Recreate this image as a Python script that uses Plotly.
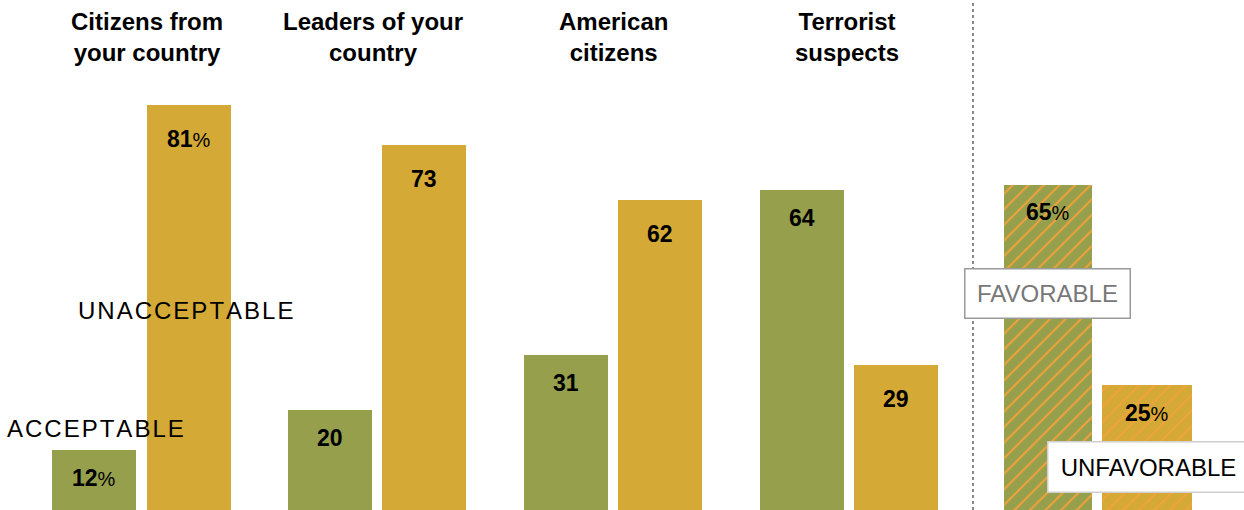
import plotly.graph_objects as go

# ---- data ----
groups = ["Citizens from<br>your country", "Leaders of your<br>country", "American<br>citizens", "Terrorist<br>suspects"]
acceptable = [12, 20, 31, 64]
unacceptable = [81, 73, 62, 29]
favorable = [65]
unfavorable = [25]

# ---- layout constants (pixel-like x positions on a linear axis) ----
acc_x = [94, 330, 566, 802]
unacc_x = [189, 424, 660, 896]
fav_x = [1048]
unfav_x = [1147]
header_x = [147, 373, 613, 847]

GREEN = "#959f4c"
GOLD = "#d4a935"
NUM_FONT = dict(family="Liberation Sans, Arial, sans-serif", size=23, color="black")

def lab(v, pct):
    return f"<b>{v}</b><span style='font-size:20px'>%</span>" if pct else f"<b>{v}</b>"

fig = go.Figure()
fig.add_trace(go.Bar(x=acc_x, y=acceptable, width=84, marker=dict(color=GREEN, line=dict(width=0)), showlegend=False, hoverinfo="skip"))
fig.add_trace(go.Bar(x=unacc_x, y=unacceptable, width=84, marker=dict(color=GOLD, line=dict(width=0)), showlegend=False, hoverinfo="skip"))
fig.add_trace(go.Bar(x=fav_x, y=favorable, width=88,
                     marker=dict(color=GREEN, line=dict(width=0),
                                 pattern=dict(shape="/", fgcolor="#eda23c", bgcolor=GREEN, size=11, solidity=0.2, fillmode="replace")),
                     showlegend=False, hoverinfo="skip"))
fig.add_trace(go.Bar(x=unfav_x, y=unfavorable, width=90,
                     marker=dict(color=GOLD, line=dict(width=0),
                                 pattern=dict(shape="/", fgcolor="#eea43e", bgcolor=GOLD, size=11, solidity=0.2, fillmode="replace")),
                     showlegend=False, hoverinfo="skip"))

ann = []
for i, (x, v) in enumerate(zip(acc_x, acceptable)):
    ann.append(dict(x=x, y=v, text=lab(v, i == 0), showarrow=False, yshift=-28, font=NUM_FONT))
for i, (x, v) in enumerate(zip(unacc_x, unacceptable)):
    ann.append(dict(x=x, y=v, text=lab(v, i == 0), showarrow=False, yshift=-34, font=NUM_FONT))
for x, v in zip(fav_x, favorable):
    ann.append(dict(x=x, y=v, text=lab(v, True), showarrow=False, yshift=-27, font=NUM_FONT))
for x, v in zip(unfav_x, unfavorable):
    ann.append(dict(x=x, y=v, text=lab(v, True), showarrow=False, yshift=-28, font=NUM_FONT))

for x, g in zip(header_x, groups):
    ann.append(dict(x=x, y=1, xref="x", yref="paper", yanchor="top", yshift=-6, text=f"<b>{g}</b>", showarrow=False,
                    font=dict(family="Liberation Sans, Arial, sans-serif", size=24, color="black")))

LBL_FONT = "Liberation Sans, Arial, sans-serif"
ann.append(dict(x=185, y=40, text="U N A C C E P T A B L E".replace(" ", "\u200a"), showarrow=False,
                font=dict(family=LBL_FONT, size=24, color="black")))
ann.append(dict(x=95, y=16.4, text="A C C E P T A B L E".replace(" ", "\u200a"), showarrow=False,
                font=dict(family=LBL_FONT, size=24, color="black")))
ann.append(dict(x=1047, y=43.4, text="FAVORABLE", showarrow=False, width=158, height=42,
                bgcolor="white", bordercolor="#9a9a9a", borderwidth=1.5, borderpad=3,
                font=dict(family=LBL_FONT, size=24, color="#777777")))
ann.append(dict(x=1148, y=8.6, text="UNFAVORABLE", showarrow=False, width=194, height=43,
                bgcolor="white", bordercolor="#cfcfcf", borderwidth=1.5, borderpad=3,
                font=dict(family=LBL_FONT, size=24, color="black")))

fig.add_shape(type="line", x0=973, x1=973, y0=0, y1=1, xref="x", yref="paper",
              line=dict(color="#8a8a8a", width=2, dash="dot"))

fig.update_layout(
    width=1244, height=510, margin=dict(l=0, r=0, t=0, b=0),
    paper_bgcolor="white", plot_bgcolor="white",
    barmode="overlay", bargap=0,
    xaxis=dict(range=[0, 1244], visible=False, fixedrange=True),
    yaxis=dict(range=[0, 102], visible=False, fixedrange=True),
    annotations=ann,
)
fig.write_html("out.html")
